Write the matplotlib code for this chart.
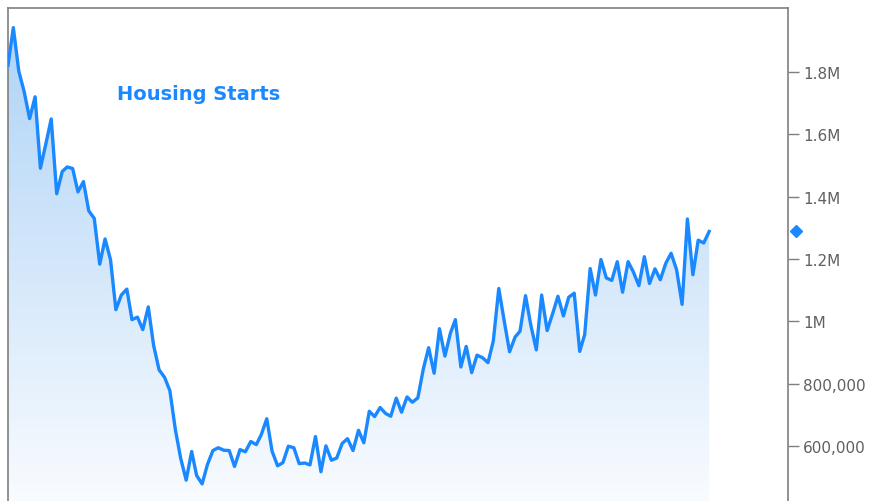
import numpy as np
import pandas as pd
import matplotlib
matplotlib.use("Agg")
import matplotlib.pyplot as plt
import matplotlib.dates as mdates
from matplotlib.ticker import FuncFormatter
from matplotlib.colors import LinearSegmentedColormap

# Housing starts (thousands, SAAR), monthly from Apr 2006 to Feb 2017
start_month = "2006-04-01"
y2006 = [1821, 1942, 1802, 1737, 1650, 1720, 1491, 1570, 1649]
y2007 = [1409, 1480, 1495, 1490, 1415, 1448, 1354, 1330, 1183, 1264, 1197, 1037]
y2008 = [1084, 1103, 1005, 1013, 973, 1046, 923, 844, 820, 777, 652, 560]
y2009 = [490, 582, 505, 478, 540, 585, 594, 586, 585, 534, 588, 581]
y2010 = [614, 604, 636, 687, 583, 536, 546, 599, 594, 543, 545, 539]
y2011 = [630, 517, 600, 554, 561, 608, 623, 585, 650, 610, 711, 694]
y2012 = [723, 704, 695, 753, 708, 757, 740, 754, 847, 915, 833, 976]
y2013 = [888, 962, 1005, 853, 919, 835, 891, 883, 867, 936, 1105, 1003]
y2014 = [902, 949, 968, 1082, 987, 908, 1084, 970, 1024, 1080, 1017, 1077]
y2015 = [1090, 903, 957, 1169, 1084, 1198, 1139, 1131, 1191, 1093, 1191, 1158]
y2016 = [1114, 1207, 1121, 1168, 1133, 1186, 1218, 1165, 1054, 1328, 1149, 1260]
y2017 = [1251, 1288]

values = np.array(y2006 + y2007 + y2008 + y2009 + y2010 + y2011 + y2012 +
                  y2013 + y2014 + y2015 + y2016 + y2017) * 1000.0
dates = pd.date_range(start_month, periods=len(values), freq="MS")

title = "Housing Starts"
yticks = [600000, 800000, 1000000, 1200000, 1400000, 1600000, 1800000]

line_color = "#1a88ff"
gray = "#7f7f7f"
label_gray = "#606060"

W, H = 869, 502
fig = plt.figure(figsize=(W / 100, H / 100), dpi=100)
left_px, right_px, top_px, bottom_px = 8, 788, 9, 512
ax = fig.add_axes([left_px / W, 1 - bottom_px / H,
                   (right_px - left_px) / W, (bottom_px - top_px) / H])

xnum = mdates.date2num(dates)
xmin = xnum[0]
xmax = mdates.date2num(pd.Timestamp("2018-04-22"))
ymin, ymax = 391000, 2005000
ax.set_xlim(xmin, xmax)
ax.set_ylim(ymin, ymax)

# gradient fill under the line
cmap = LinearSegmentedColormap.from_list("g", [(250/255, 252/255, 1.0),
                                                (172/255, 210/255, 246/255)])
grad = np.linspace(0, 1, 256).reshape(-1, 1)
img = ax.imshow(grad, cmap=cmap, aspect="auto", origin="lower",
                extent=[xmin, xmax, ymin, ymax], zorder=1, interpolation="bilinear")
poly = ax.fill_between(xnum, values, ymin, facecolor="none", edgecolor="none", zorder=1)
img.set_clip_path(poly.get_paths()[0], transform=ax.transData)

ax.plot(xnum, values, color=line_color, lw=2.4, zorder=3, solid_joinstyle="round")

# right axis styling
ax.yaxis.tick_right()
ax.set_yticks(yticks)

def fmt(v, pos):
    if v >= 1000000:
        s = f"{v / 1e6:.1f}".rstrip("0").rstrip(".")
        return s + "M"
    return f"{int(v):,}"

ax.yaxis.set_major_formatter(FuncFormatter(fmt))
ax.tick_params(axis="y", which="major", direction="out", length=8, width=1,
               color=gray, labelcolor=label_gray, labelsize=11, pad=3)
ax.set_xticks([])
for side in ["left", "top", "right"]:
    ax.spines[side].set_color(gray)
    ax.spines[side].set_linewidth(1.2)
ax.spines["bottom"].set_visible(False)

# last-value diamond on the axis
ax.plot([1.0 + 8 / (right_px - left_px)], [values[-1]], marker="D", markersize=6.5,
        color=line_color, transform=ax.get_yaxis_transform(), clip_on=False, zorder=5)

ax.text((117 - left_px) / (right_px - left_px), 1 - (94 - top_px) / (bottom_px - top_px),
        title, transform=ax.transAxes, color=line_color, fontsize=14,
        fontweight="bold", ha="left", va="center")

fig.savefig("out.png", dpi=100)
